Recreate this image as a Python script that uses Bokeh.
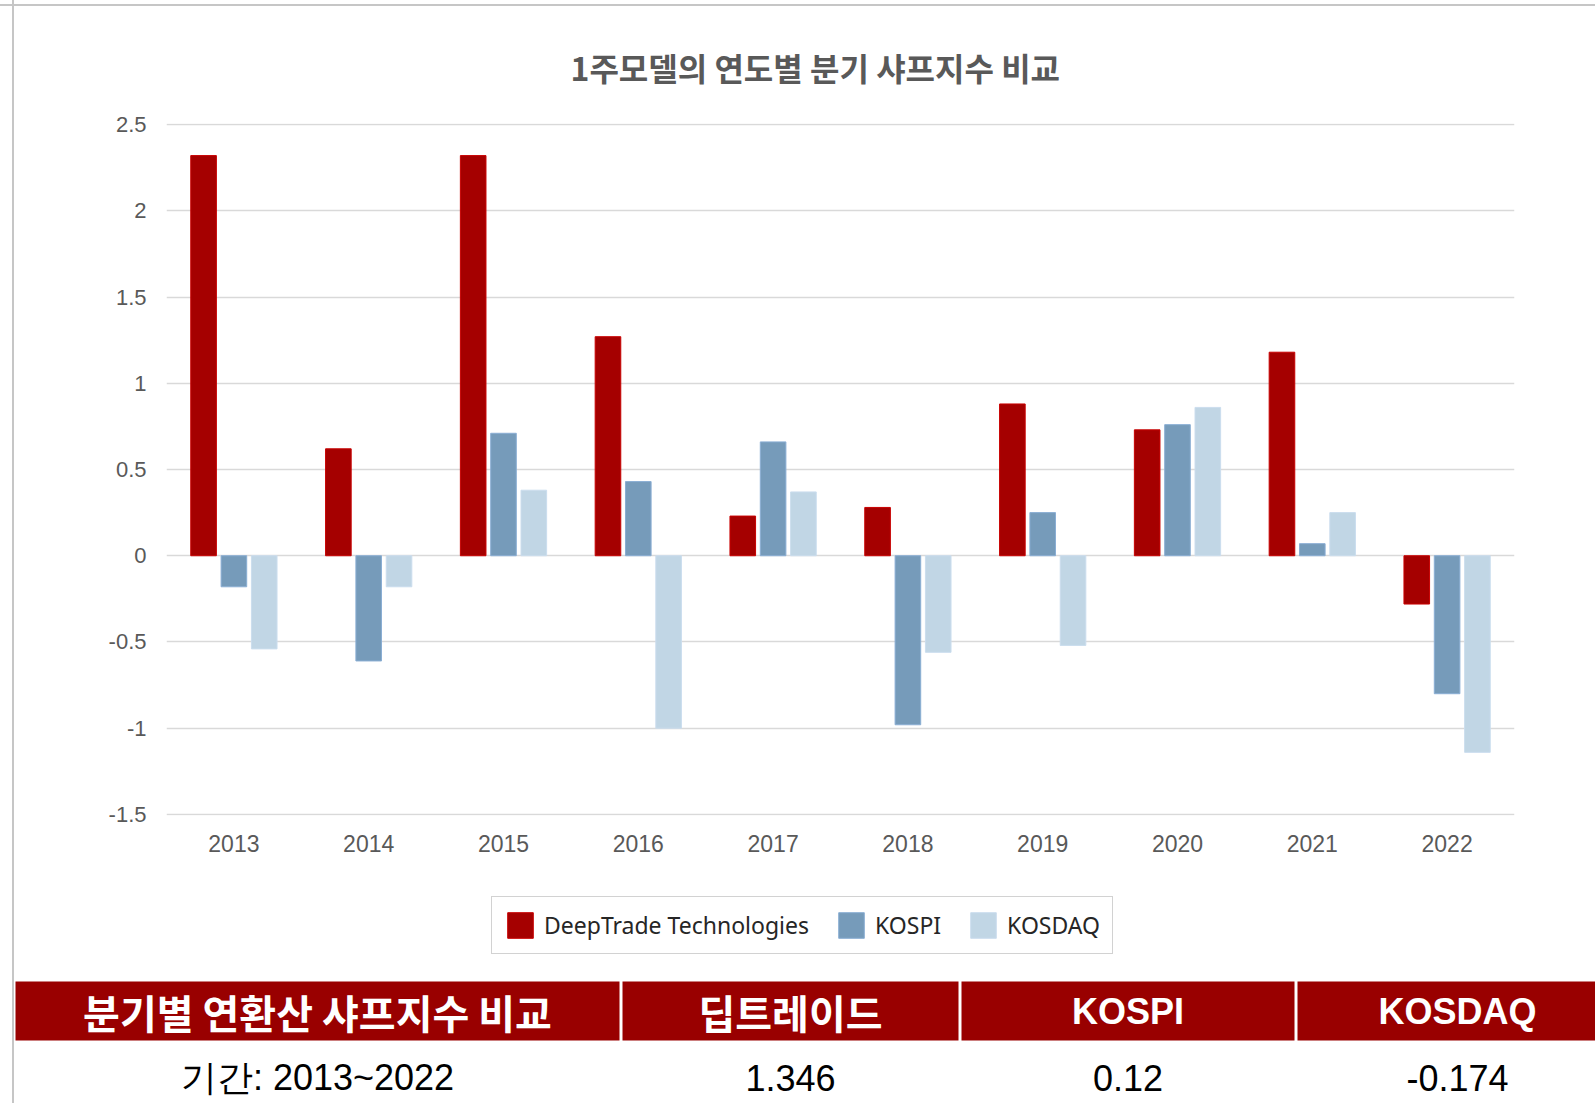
from bokeh.plotting import figure
from bokeh.models import ColumnDataSource, FactorRange, Range1d, FixedTicker, Legend, LegendItem
from bokeh.transform import dodge
from bokeh.layouts import column
from bokeh.core.properties import value
from bokeh.embed import file_html
from bokeh.resources import INLINE

# ---------------- data ----------------
years = ["2013", "2014", "2015", "2016", "2017", "2018", "2019", "2020", "2021", "2022"]
deeptrade = [2.32, 0.62, 2.32, 1.27, 0.23, 0.28, 0.88, 0.73, 1.18, -0.28]
kospi = [-0.18, -0.61, 0.71, 0.43, 0.66, -0.98, 0.25, 0.76, 0.07, -0.80]
kosdaq = [-0.54, -0.18, 0.38, -1.00, 0.37, -0.56, -0.52, 0.86, 0.25, -1.14]
series_names = ["DeepTrade Technologies", "KOSPI", "KOSDAQ"]
series_fill = ["#A50000", "#769BBA", "#C1D6E5"]
series_line = ["#C80000", "#8AAED4", "#CBDDEE"]

y_ticks = [-1.5, -1.0, -0.5, 0.0, 0.5, 1.0, 1.5, 2.0, 2.5]
y_tick_labels = ["-1.5", "-1", "-0.5", "0", "0.5", "1", "1.5", "2", "2.5"]

chart_title = "1주모델의 연도별 분기 샤프지수 비교"
table_headers = ["분기별 연환산 샤프지수 비교", "딥트레이드", "KOSPI", "KOSDAQ"]
table_values = ["기간: 2013~2022", "1.346", "0.12", "-0.174"]

# ---------------- chart ----------------
src = ColumnDataSource(dict(year=years, dt=deeptrade, kospi=kospi, kosdaq=kosdaq))

p = figure(x_range=FactorRange(*years), y_range=Range1d(-1.506, 2.506),
           width=1595, height=870, output_backend="svg", toolbar_location=None,
           min_border_left=166, min_border_right=81, min_border_top=123, min_border_bottom=55,
           outline_line_color=None, border_fill_alpha=0, frame_align=False)

p.title.text = chart_title
p.title.align = "left"
p.title.offset = 404
p.title.text_font = "Noto Sans CJK KR"
p.title.text_font_size = "32px"
p.title.text_font_style = "bold"
p.title.text_color = "#595959"
p.title.standoff = 67

p.xgrid.grid_line_color = None
p.ygrid.grid_line_color = "#d9d9d9"
p.ygrid.grid_line_width = 1.5
p.ygrid.ticker = FixedTicker(ticks=y_ticks)

p.yaxis.ticker = FixedTicker(ticks=y_ticks)
p.yaxis.major_label_overrides = {t: l for t, l in zip(y_ticks, y_tick_labels)}
for ax in (p.xaxis, p.yaxis):
    ax.axis_line_color = None
    ax.major_tick_line_color = None
    ax.minor_tick_line_color = None
    ax.major_tick_out = 0
    ax.major_label_text_font = "Liberation Sans"
    ax.major_label_text_color = "#595959"
p.yaxis.major_label_text_font_size = "22px"
p.yaxis.major_label_standoff = 20
p.xaxis.major_label_text_font_size = "23px"
p.xaxis.major_label_standoff = 19

bw = 0.19
for col, off, fc, lc in zip(["dt", "kospi", "kosdaq"], [-0.225, 0.0, 0.225], series_fill, series_line):
    p.vbar(x=dodge("year", off, range=p.x_range), top=col, width=bw, source=src,
           fill_color=fc, line_color=lc, line_width=1)

# ---------------- legend strip ----------------
lf = figure(x_range=Range1d(0, 1595), y_range=Range1d(0, 105), width=1595, height=105,
            output_backend="svg", toolbar_location=None, x_axis_type=None, y_axis_type=None,
            min_border=0, outline_line_color=None, border_fill_alpha=0, background_fill_alpha=0,
            frame_align=False)
lf.grid.visible = False
items = []
for name, fc, lc in zip(series_names, series_fill, series_line):
    # swatch-only renderer (kept outside the visible range)
    r = lf.vbar(x=[-1000], top=[0], width=1, fill_color=fc, line_color=lc, line_width=1)
    items.append(LegendItem(label=name, renderers=[r]))
legend = Legend(items=items, orientation="horizontal", location=(491, 21),
                border_line_color="#a6a6a6", border_line_width=1.5,
                padding=12, margin=0, spacing=26, label_standoff=8,
                glyph_width=32, glyph_height=32,
                label_text_font="Noto Sans", label_text_font_size="23px",
                label_text_color="#262626", background_fill_color="white")
lf.add_layout(legend, "center")

# ---------------- summary table ----------------
col_left = [15, 622, 961, 1297]
col_right = [619, 958, 1294, 1617]
centers = [(a + b) / 2 for a, b in zip(col_left, col_right)]
head_fonts = ["Noto Sans CJK KR", "Noto Sans CJK KR", "Liberation Sans", "Liberation Sans"]
head_sizes = ["40px", "40px", "36px", "36px"]

t = figure(x_range=Range1d(0, 1595), y_range=Range1d(1103, 975), width=1595, height=128,
           output_backend="svg", toolbar_location=None, x_axis_type=None, y_axis_type=None,
           min_border=0, outline_line_color=None, border_fill_alpha=0, background_fill_alpha=0,
           frame_align=False)
t.grid.visible = False

t.quad(left=col_left, right=col_right, top=981, bottom=1040,
       fill_color="#990000", line_color=None)
hsrc = ColumnDataSource(dict(x=centers, text=table_headers, font=head_fonts, size=head_sizes))
t.text(x="x", y=1011, text="text", source=hsrc, text_font="font",
       text_font_size="size", text_font_style="bold", text_color="white",
       text_align="center", text_baseline="middle")
t.text(x=centers, y=[1077] * 4, text=table_values, text_font=value("Liberation Sans"),
       text_font_size="36px", text_color="black",
       text_align="center", text_baseline="middle")

layout = column(p, lf, t, spacing=0, styles={
    "background-image": "linear-gradient(#c6c6c6,#c6c6c6), linear-gradient(#c6c6c6,#c6c6c6)",
    "background-size": "2px 100%, 100% 2px",
    "background-position": "12px 0, 0 4px",
    "background-repeat": "no-repeat"})

open("out.html", "w").write(file_html(layout, INLINE))
